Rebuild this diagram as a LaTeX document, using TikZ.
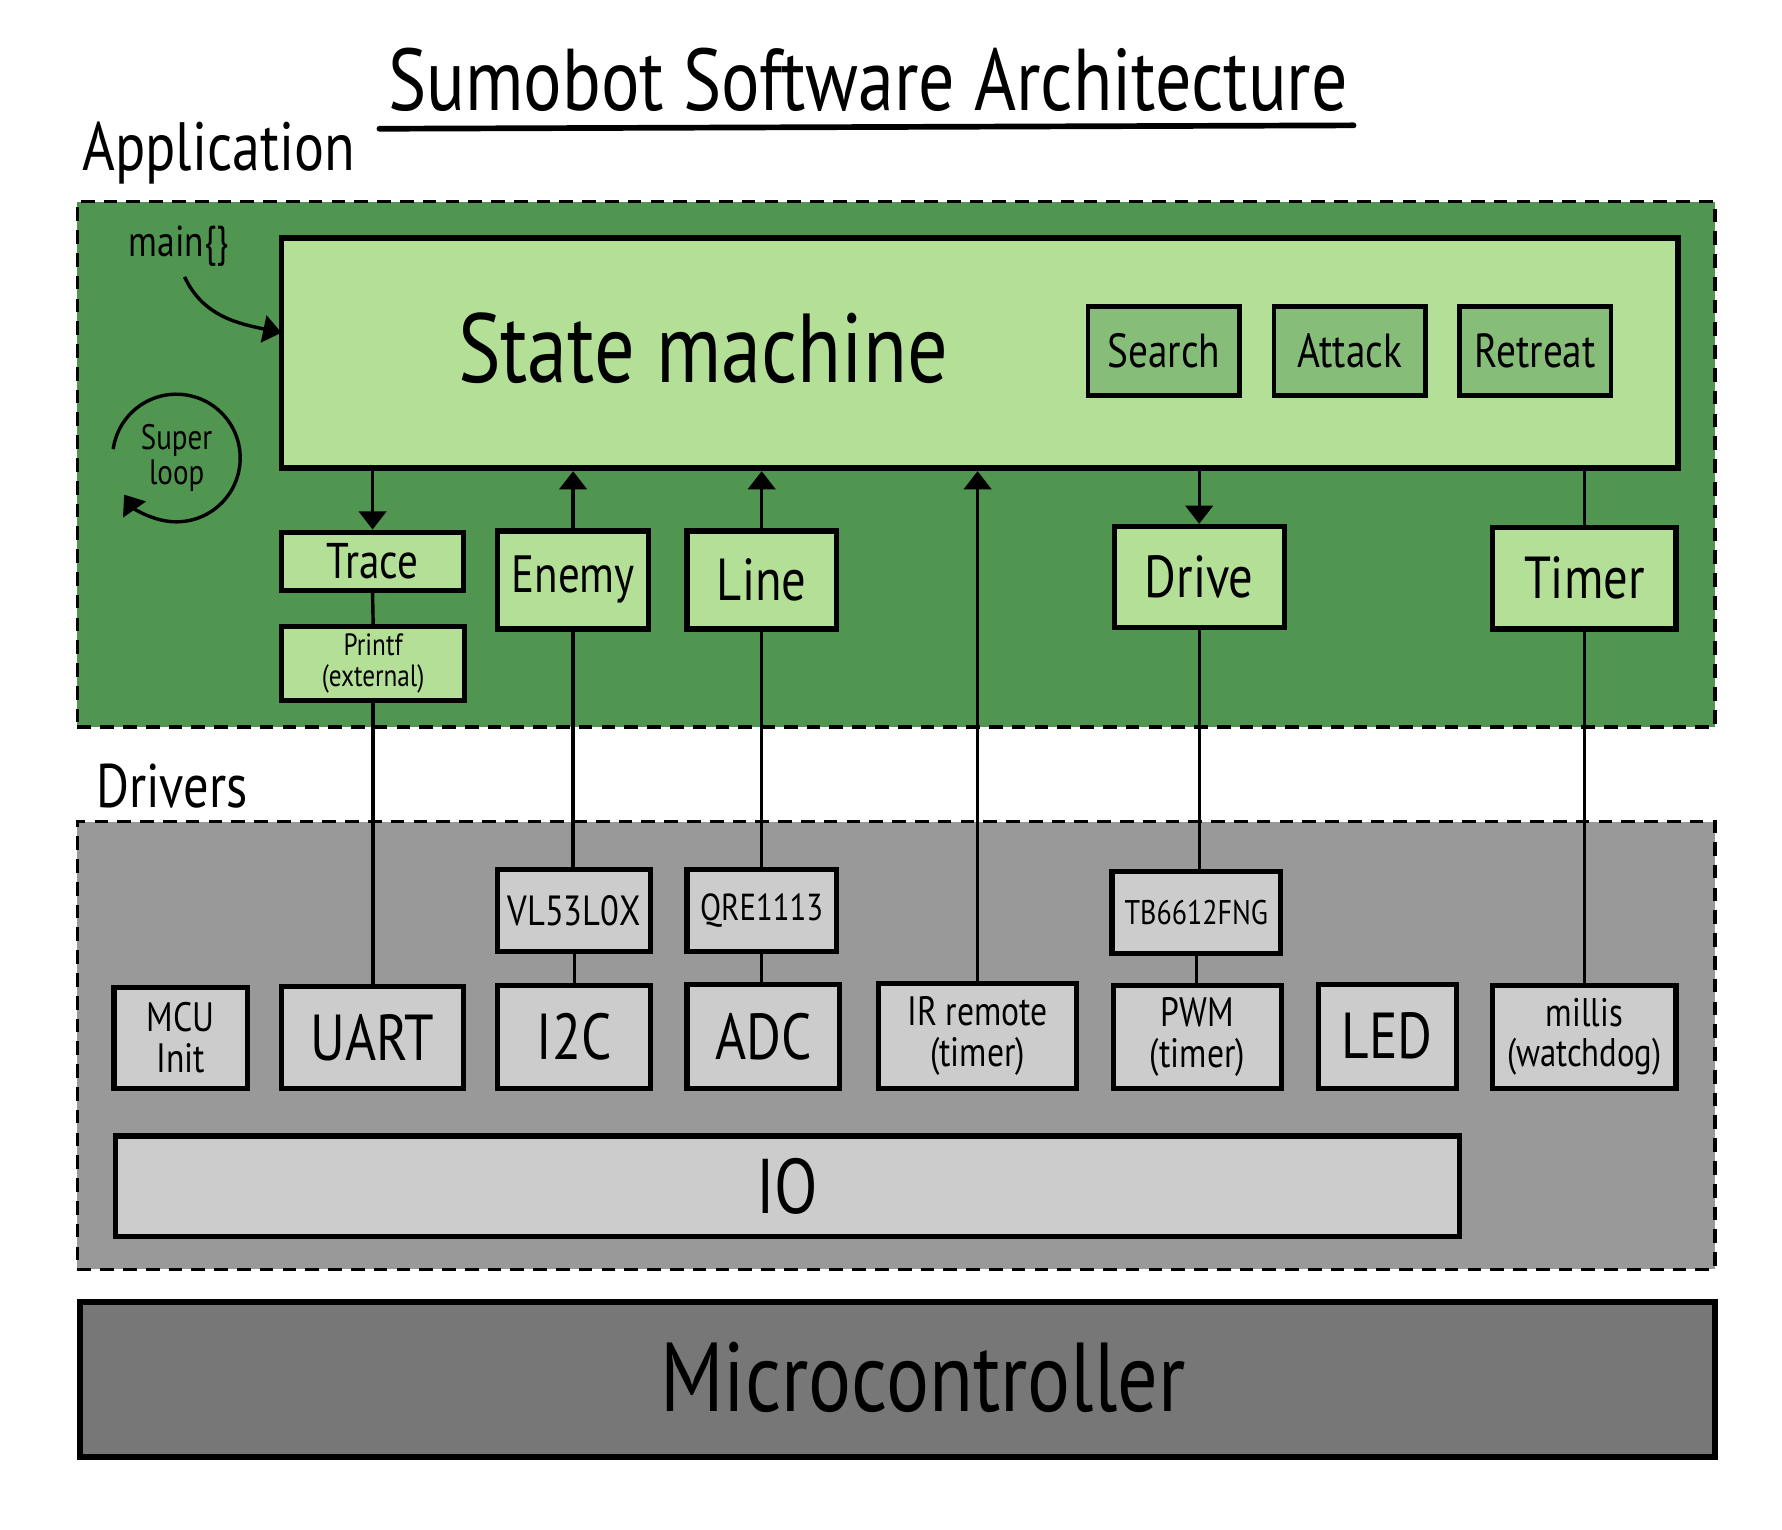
\documentclass[tikz,border=0pt]{standalone}
\usepackage{fontspec}
\setmainfont{PT Sans}
\newfontfamily\handfont[FakeStretch=0.82]{PT Sans}
\usetikzlibrary{arrows.meta}
\definecolor{appgreen}{HTML}{509550}
\definecolor{lightgreen}{HTML}{B3DF97}
\definecolor{midgreen}{HTML}{86BD78}
\definecolor{drvgray}{HTML}{999999}
\definecolor{lightgray}{HTML}{CCCCCC}
\definecolor{mcugray}{HTML}{777777}
\newcommand\hfs[1]{\handfont\fontsize{#1}{#1}\selectfont}
\begin{document}
\begin{tikzpicture}[x=1pt,y=-1pt,
  region/.style={draw=black, line width=3pt, dash pattern=on 12pt off 8pt, inner sep=0pt},
  boxbase/.style={draw=black, line width=4.5pt, inner sep=0pt, align=center, text=black},
  lgbox/.style={boxbase, fill=lightgreen},
  mgbox/.style={boxbase, fill=midgreen, line width=4pt},
  gybox/.style={boxbase, fill=lightgray},
  conn/.style={draw=black, line width=3pt},
  tip/.style={-{Triangle[width=24pt,length=16pt]}},
  lbl/.style={inner sep=0pt, text=black, align=center}]
\useasboundingbox (0,0) rectangle (1564,1342);

% title
\node[lbl, font=\hfs{77}] (title) at (762,70) {Sumobot Software Architecture};
\coordinate (ul1) at (333,113);
\coordinate (ul2) at (1188,110);
\draw[line width=5pt, line cap=round] (ul1) -- (ul2);

% regions
\node[lbl, font=\hfs{60}] (applbl) at (192,134) {Application};
\node[region, fill=appgreen, minimum width=1437pt, minimum height=461pt] (app) at (786.5,407.5) {};
\node[lbl, font=\hfs{54}] (drvlbl) at (151,690) {Drivers};
\node[region, fill=drvgray, minimum width=1437pt, minimum height=393pt] (drv) at (786.5,917.5) {};

% state machine
\node[lgbox, line width=5pt, minimum width=1226pt, minimum height=202pt] (sm) at (860,310) {};
\node[lbl, font=\hfs{86}] (smlbl) at (617,306) {State machine};
\node[mgbox, font=\hfs{42}, minimum width=133pt, minimum height=78pt] (search) at (1021.5,308) {Search};
\node[mgbox, font=\hfs{42}, minimum width=133pt, minimum height=78pt] (attack) at (1184.5,308) {Attack};
\node[mgbox, font=\hfs{42}, minimum width=133pt, minimum height=78pt] (retreat) at (1347.5,308) {Retreat};

% main and super loop
\node[lbl, font=\hfs{38}] (mainlbl) at (157,216) {main\{\}};
\coordinate (mainin) at (247,292);
\draw[conn, tip] (162,243) to[out=-65, in=168] (mainin);
\node[lbl, circle, font=\hfs{31}, minimum size=112pt] (loop) at (155,402) {Super\\loop};
\draw[conn, tip] (loop.172) arc[start angle=172, end angle=-145, radius=56pt];

% application modules
\node[lgbox, font=\hfs{44}, minimum width=160pt, minimum height=51pt] (trace) at (327,492.5) {Trace};
\node[lgbox, font=\hfs{27}, minimum width=161pt, minimum height=65pt] (printf) at (327.5,582.5) {Printf\\(external)};
\node[lgbox, font=\hfs{46}, minimum width=132pt, minimum height=86pt] (enemy) at (503,509) {Enemy};
\node[lgbox, font=\hfs{52}, minimum width=131pt, minimum height=86pt] (line) at (668.5,509) {Line};
\node[lgbox, font=\hfs{52}, minimum width=149pt, minimum height=89pt] (drive) at (1052.5,506.5) {Drive};
\node[lgbox, font=\hfs{52}, minimum width=161pt, minimum height=89pt] (timer) at (1390.5,507.5) {Timer};

% drivers
\node[gybox, font=\hfs{37}, minimum width=134pt, minimum height=72pt] (vl) at (504,799) {VL53L0X};
\node[gybox, font=\hfs{33}, minimum width=131pt, minimum height=72pt] (qre) at (668.5,799) {QRE1113};
\node[gybox, font=\hfs{30}, minimum width=148pt, minimum height=72pt] (tb) at (1050,801) {TB6612FNG};

\node[gybox, font=\hfs{36}, minimum width=117pt, minimum height=88pt] (mcu) at (158.5,911) {MCU\\Init};
\node[gybox, font=\hfs{57}, minimum width=160pt, minimum height=89pt] (uart) at (327,910.5) {UART};
\node[gybox, font=\hfs{57}, minimum width=134pt, minimum height=90pt] (i2c) at (504,910) {I2C};
\node[gybox, font=\hfs{57}, minimum width=134pt, minimum height=91pt] (adc) at (670,909.5) {ADC};
\node[gybox, font=\hfs{36}, minimum width=174pt, minimum height=92pt] (ir) at (858,909) {IR remote\\(timer)};
\node[gybox, font=\hfs{36}, minimum width=148pt, minimum height=90pt] (pwm) at (1051,910) {PWM\\(timer)};
\node[gybox, font=\hfs{57}, minimum width=121pt, minimum height=91pt] (led) at (1217.5,909.5) {LED};
\node[gybox, font=\hfs{35}, minimum width=161pt, minimum height=90pt] (millis) at (1390.5,910) {millis\\(watchdog)};

\node[gybox, font=\hfs{68}, minimum width=1180pt, minimum height=88pt] (io) at (691,1041) {IO};
\node[boxbase, fill=mcugray, line width=5pt, minimum width=1435pt, minimum height=136pt] (micro) at (787.5,1211) {};
\node[lbl, font=\hfs{86}] (microlbl) at (810,1209) {Microcontroller};

% connectors
\draw[conn, tip] (trace.north |- sm.south) -- (trace.north);
\draw[conn] (trace.south) -- (printf.north);
\draw[conn] (printf.south) -- (printf.south |- uart.north);
\draw[conn, tip] (enemy.north) -- (enemy.north |- sm.south);
\draw[conn] (enemy.south) -- (enemy.south |- vl.north);
\draw[conn] (vl.south) -- (vl.south |- i2c.north);
\draw[conn, tip] (line.north) -- (line.north |- sm.south);
\draw[conn] (line.south) -- (line.south |- qre.north);
\draw[conn] (qre.south) -- (qre.south |- adc.north);
\draw[conn, tip] (ir.north) -- (ir.north |- sm.south);
\draw[conn, tip] (drive.north |- sm.south) -- (drive.north);
\draw[conn] (drive.south) -- (drive.south |- tb.north);
\draw[conn] (tb.south) -- (tb.south |- pwm.north);
\draw[conn] (timer.north |- sm.south) -- (timer.north);
\draw[conn] (timer.south) -- (timer.south |- millis.north);
\end{tikzpicture}
\end{document}
